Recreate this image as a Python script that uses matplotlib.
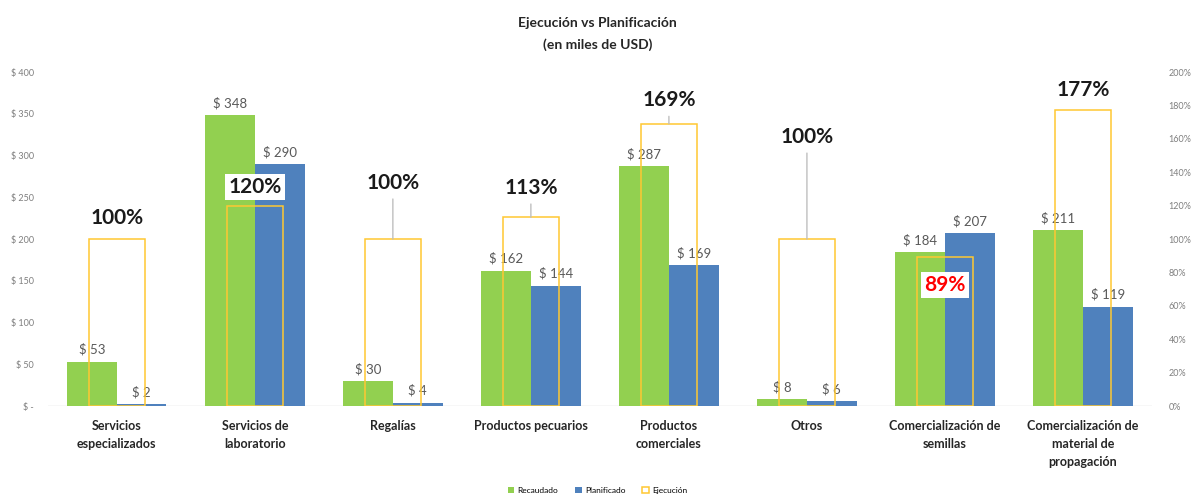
import numpy as np
import matplotlib
matplotlib.use('Agg')
import matplotlib.pyplot as plt
from matplotlib.ticker import FuncFormatter

plt.rcParams['font.family'] = ['Lato', 'DejaVu Sans']

# Data
categories = ['Servicios\nespecializados', 'Servicios de\nlaboratorio', 'Regalías',
              'Productos pecuarios', 'Productos\ncomerciales', 'Otros',
              'Comercialización de\nsemillas', 'Comercialización de\nmaterial de\npropagación']
recaudado = [53, 348, 30, 162, 287, 8, 184, 211]
planificado = [2, 290, 4, 144, 169, 6, 207, 119]
ejecucion = [100, 120, 100, 113, 169, 100, 89, 177]

# where each percent label sits (in % units) and whether it gets a leader line
pct_label_y = [112.6, 131, 133.5, 130.5, 183, 161, 72.5, 189]
pct_leader = [False, False, True, True, True, True, False, False]
pct_color = ['#1a1a1a'] * 6 + ['#FF0000', '#1a1a1a']

green = '#92D050'
blue = '#4F81BD'
yellow = '#FFC832'
gray_txt = '#595959'

fig = plt.figure(figsize=(11.95, 4.97), dpi=100)
ax = fig.add_axes([0.040, 0.183, 0.924, 0.672])
ax2 = ax.twinx()

x = np.arange(len(categories))
w = 0.36
ax.bar(x - w / 2, recaudado, width=w, color=green, label='Recaudado', zorder=2)
ax.bar(x + w / 2, planificado, width=w, color=blue, label='Planificado', zorder=2)

for i in range(len(x)):
  ax.text(x[i] - w / 2, recaudado[i] + 7, f'$ {recaudado[i]}', ha='center', va='bottom',
          fontsize=9.5, color=gray_txt)
  ax.text(x[i] + w / 2, planificado[i] + 7, f'$ {planificado[i]}', ha='center', va='bottom',
          fontsize=9.5, color=gray_txt)

ax.set_xlim(-0.5, len(categories) - 0.5)
ax.set_ylim(0, 400)
ax.set_yticks(np.arange(0, 401, 50))
ax.yaxis.set_major_formatter(FuncFormatter(lambda v, p: '$ -' if v == 0 else f'$ {int(v)}'))
ax.set_xticks(x)
ax.set_xticklabels(categories, fontsize=9, fontweight='bold', color='#262626', linespacing=1.6)
ax.tick_params(axis='x', length=0, pad=10)
ax.tick_params(axis='y', length=0, labelsize=6.5, labelcolor='#7f7f7f', pad=10)
ax.axhline(0, color='#d9d9d9', lw=1, zorder=1)

# Ejecucion as outlined bars on the secondary axis
ax2.bar(x, ejecucion, width=0.41, fill=False, edgecolor=yellow, lw=1.1, label='Ejecución', zorder=3)
ax2.set_ylim(0, 200)
ax2.set_yticks(np.arange(0, 201, 20))
ax2.yaxis.set_major_formatter(FuncFormatter(lambda v, p: f'{int(v)}%'))
ax2.tick_params(axis='y', length=0, labelsize=6.5, labelcolor='#7f7f7f', pad=12)

for i in range(len(x)):
  box = dict(boxstyle='square,pad=0.15', fc='white', ec='none')
  if pct_leader[i]:
    ax2.annotate(f'{ejecucion[i]}%', xy=(x[i], ejecucion[i]), xytext=(x[i], pct_label_y[i]),
                 ha='center', va='center', fontsize=15, fontweight='bold', color=pct_color[i],
                 bbox=box, arrowprops=dict(arrowstyle='-', color='#bfbfbf', lw=1, shrinkA=2, shrinkB=0),
                 zorder=5)
  else:
    ax2.text(x[i], pct_label_y[i], f'{ejecucion[i]}%', ha='center', va='center', fontsize=15,
             fontweight='bold', color=pct_color[i], bbox=box, zorder=5)

for a in (ax, ax2):
  for s in a.spines.values():
    s.set_visible(False)

fig.text(0.5, 0.953, 'Ejecución vs Planificación', ha='center', va='center',
         fontsize=10, fontweight='bold', color='#262626')
fig.text(0.5, 0.911, '(en miles de USD)', ha='center', va='center',
         fontsize=10, fontweight='bold', color='#262626')

h1, l1 = ax.get_legend_handles_labels()
h2, l2 = ax2.get_legend_handles_labels()
fig.legend(h1 + h2, l1 + l2, loc='center', bbox_to_anchor=(0.5, 0.014), ncol=3, frameon=False,
           fontsize=6, handlelength=0.8, handleheight=0.8, columnspacing=2, handletextpad=0.4)

fig.savefig('out.png', dpi=100)
